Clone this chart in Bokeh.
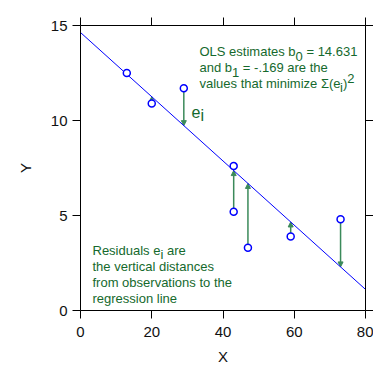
from bokeh.plotting import figure
from bokeh.models import Range1d, LinearAxis, FixedTicker, Arrow, NormalHead, ColumnDataSource
from bokeh.core.properties import value
from bokeh.embed import file_html
from bokeh.resources import INLINE

# ---- data ----
x_obs = [13, 20, 29, 43, 43, 47, 59, 73]
y_obs = [12.5, 10.9, 11.7, 7.6, 5.2, 3.3, 3.9, 4.8]
b0 = 14.631
b1 = -0.169
x_ticks = [0, 20, 40, 60, 80]
y_ticks = [0, 5, 10, 15]

GREEN_TEXT = "#15692d"
GREEN_ARROW = "#3b8a5a"
BLUE = "#0000ff"
FONT = "Liberation Sans"
NB = "\u00a0"

p = figure(frame_width=285, frame_height=285,
           x_range=Range1d(x_ticks[0], x_ticks[-1]), y_range=Range1d(y_ticks[0], y_ticks[-1]),
           output_backend="svg", toolbar_location=None,
           min_border_left=80, min_border_top=25, min_border_right=8, min_border_bottom=62,
           x_axis_label="X", y_axis_label="Y")
p.grid.visible = False
p.outline_line_color = None

def style_axis(ax, ticks, labels=True):
    ax.ticker = FixedTicker(ticks=ticks)
    ax.minor_tick_line_color = None
    ax.major_tick_in = 0
    ax.major_tick_out = 8
    ax.axis_line_color = "black"
    ax.axis_line_width = 1
    ax.major_tick_line_color = "black"
    ax.major_tick_line_width = 1
    ax.major_label_text_font = FONT
    if labels:
        ax.major_label_text_font_size = "15px"
        ax.major_label_text_color = "#111111"
    else:
        ax.major_label_text_color = None
        ax.major_label_standoff = 0
    ax.axis_label_text_font = FONT
    ax.axis_label_text_font_size = "15px"
    ax.axis_label_text_font_style = "normal"
    ax.axis_label_text_color = "#111111"

style_axis(p.xaxis[0], x_ticks)
style_axis(p.yaxis[0], y_ticks)
p.xaxis[0].major_label_standoff = 8
p.xaxis[0].axis_label_standoff = 8
p.yaxis[0].major_label_standoff = 5
p.yaxis[0].axis_label_standoff = 14

top_ax = LinearAxis()
style_axis(top_ax, x_ticks, labels=False)
p.add_layout(top_ax, "above")
right_ax = LinearAxis()
style_axis(right_ax, y_ticks, labels=False)
p.add_layout(right_ax, "right")

# regression line
line_x = [x_ticks[0], x_ticks[-1]]
line_y = [b0 + b1 * v for v in line_x]
p.line(line_x, line_y, line_color=BLUE, line_width=1)

# residual arrows (point -> fitted line)
ax_x, ax_y0, ax_y1 = [], [], []
for xv, yv in zip(x_obs, y_obs):
    yhat = b0 + b1 * xv
    if abs(yv - yhat) > 0.3:
        ax_x.append(xv)
        ax_y0.append(yv)
        ax_y1.append(yhat)
arr_src = ColumnDataSource(dict(x=ax_x, y0=ax_y0, y1=ax_y1))
p.add_layout(Arrow(end=NormalHead(size=5, fill_color=GREEN_ARROW, line_color=GREEN_ARROW, line_width=1),
                   x_start="x", y_start="y0", x_end="x", y_end="y1", source=arr_src,
                   line_color=GREEN_ARROW, line_width=1.5, level="underlay"))

# observations
p.scatter(x_obs, y_obs, marker="circle", size=7, line_color=BLUE, line_width=1.5, fill_color="white")

# ---- annotation text ----
W = {' ': 278, NB: 278, '-': 333, '.': 278, '=': 584, '(': 333, ')': 333, 'Σ': 592,
     'a': 556, 'b': 556, 'c': 500, 'd': 556, 'e': 556, 'f': 278, 'g': 556, 'h': 556,
     'i': 222, 'l': 222, 'm': 833, 'n': 556, 'o': 556, 'r': 333, 's': 500, 't': 278,
     'u': 556, 'v': 500, 'x': 500, 'z': 500, 'O': 778, 'L': 556, 'S': 667, 'R': 722}

def tw(s, size):
    return sum(W.get(c, 556) for c in s) * size / 1000.0

def px2x(px):
    return (px - 80) * (x_ticks[-1] - x_ticks[0]) / 285.0

def py2y(py):
    return (310 - py) * (y_ticks[-1] - y_ticks[0]) / 285.0

def rich(lines, x0, size, color):
    xs, ys, ts = [], [], []
    for base, segs in lines:
        cx = x0
        for txt, shift in segs:
            xs.append(px2x(cx)); ys.append(py2y(base + shift)); ts.append(txt)
            cx += tw(txt, size)
    p.text(xs, ys, text=ts, text_font=value(FONT), text_font_size=f"{size}px",
           text_color=color, text_align="left", text_baseline="alphabetic")

rich([(51, [("OLS estimates b", 0), ("0", 5), (NB + "=" + NB + "14.631", 0)]),
      (67, [("and b", 0), ("1", 5), (NB + "=" + NB + "-.169 are the", 0)]),
      (83, [("values that minimize Σ(e", 0), ("i", 4), (")", 0), ("2", -5)])],
     199, 13, GREEN_TEXT)

rich([(250, [("Residuals e", 0), ("i", 4), (NB + "are", 0)]),
      (266, [("the vertical distances", 0)]),
      (282, [("from observations to the", 0)]),
      (298, [("regression line", 0)])],
     92, 13, GREEN_TEXT)

rich([(111, [("e", 0), ("i", 4)])], 191, 16, GREEN_TEXT)

open("out.html", "w").write(file_html(p, INLINE))
